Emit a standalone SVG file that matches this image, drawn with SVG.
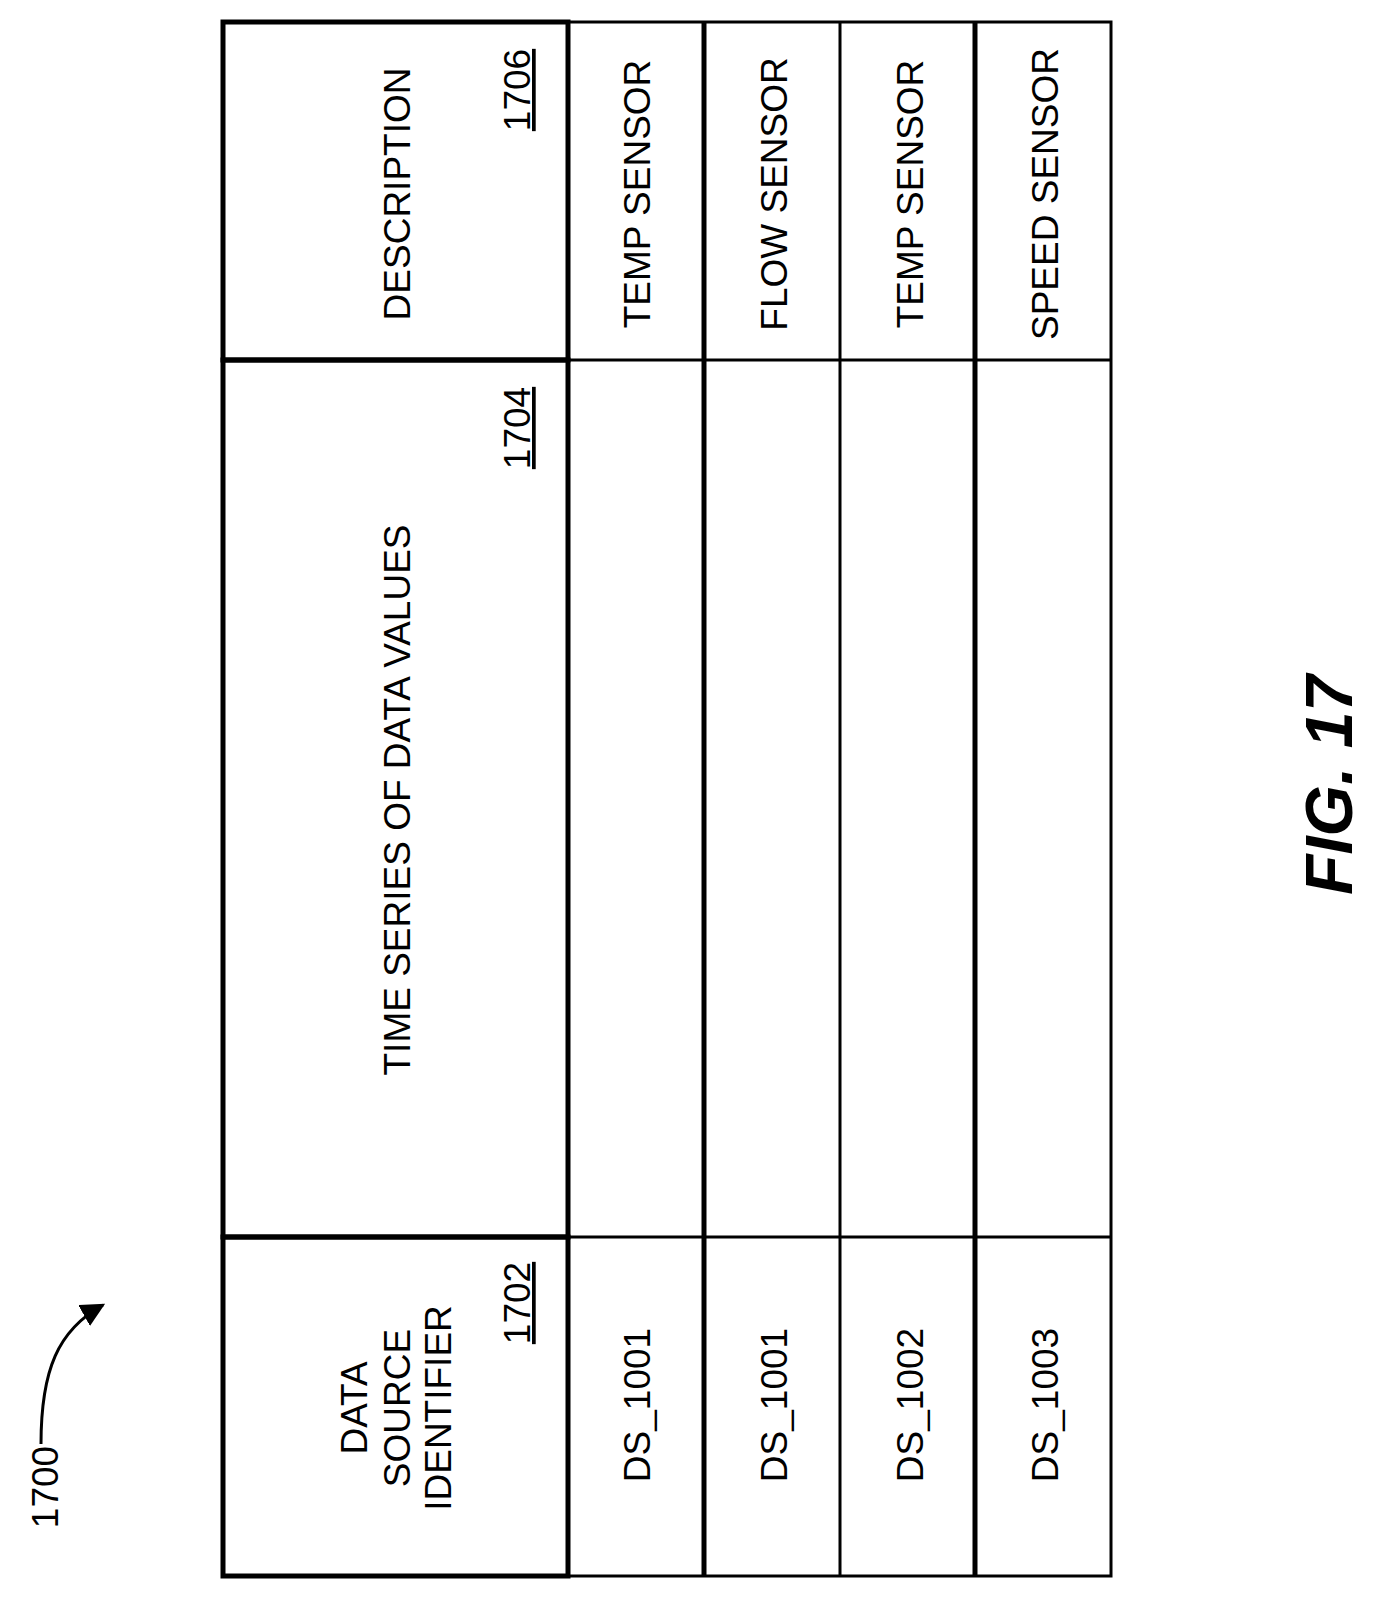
<svg xmlns="http://www.w3.org/2000/svg" width="1376" height="1601" viewBox="0 0 1376 1601">
<style>
text{font-family:"Liberation Sans",Arial,sans-serif;font-size:37px;fill:#000;text-anchor:middle}
.ref{text-decoration:underline}
.fig{font-size:66px;font-weight:bold;font-style:italic}
.thin{stroke:#000;stroke-width:3;fill:none}
.thick{stroke:#000;stroke-width:5;fill:none}
</style>
<defs><marker id="ah" viewBox="0 0 10 10" refX="9" refY="5" markerWidth="8" markerHeight="8" orient="auto"><path d="M0,0L10,5L0,10z" fill="#000"/></marker></defs>
<rect width="1376" height="1601" fill="#fff"/>
<g id="connectors">
<path class="thin" d="M41,1444 C41,1370 58,1330 103,1305" marker-end="url(#ah)"/>
</g>
<g id="table">
<rect class="thin" x="568" y="22" width="543" height="1554"/>
<line class="thin" x1="568" y1="360" x2="1111" y2="360"/>
<line class="thin" x1="568" y1="1237" x2="1111" y2="1237"/>
<line class="thick" x1="704" y1="22" x2="704" y2="1576"/>
<line class="thin" x1="840" y1="22" x2="840" y2="1576"/>
<line class="thick" x1="975" y1="22" x2="975" y2="1576"/>
</g>
<g id="h1706"><rect class="thick" x="223" y="22" width="345" height="338"/>
<text transform="translate(410,194) rotate(-90)">DESCRIPTION</text>
<text class="ref" transform="translate(530,90) rotate(-90)">1706</text></g>
<g id="h1704"><rect class="thick" x="223" y="360" width="345" height="877"/>
<text transform="translate(410,800) rotate(-90)">TIME SERIES OF DATA VALUES</text>
<text class="ref" transform="translate(530,428) rotate(-90)">1704</text></g>
<g id="h1702"><rect class="thick" x="223" y="1237" width="345" height="339"/>
<text transform="translate(367,1408) rotate(-90)">DATA</text>
<text transform="translate(410,1408) rotate(-90)">SOURCE</text>
<text transform="translate(451,1408) rotate(-90)">IDENTIFIER</text>
<text class="ref" transform="translate(530,1303) rotate(-90)">1702</text></g>
<g id="r1"><text transform="translate(650,194) rotate(-90)">TEMP SENSOR</text><text transform="translate(650,1405) rotate(-90)">DS_1001</text></g>
<g id="r2"><text transform="translate(787,194) rotate(-90)">FLOW SENSOR</text><text transform="translate(787,1405) rotate(-90)">DS_1001</text></g>
<g id="r3"><text transform="translate(923,194) rotate(-90)">TEMP SENSOR</text><text transform="translate(923,1405) rotate(-90)">DS_1002</text></g>
<g id="r4"><text transform="translate(1058,194) rotate(-90)">SPEED SENSOR</text><text transform="translate(1058,1405) rotate(-90)">DS_1003</text></g>
<g id="label1700"><text transform="translate(58,1487) rotate(-90)">1700</text></g>
<g id="fig"><text class="fig" transform="translate(1352,785) rotate(-90)">FIG. 17</text></g>
</svg>
